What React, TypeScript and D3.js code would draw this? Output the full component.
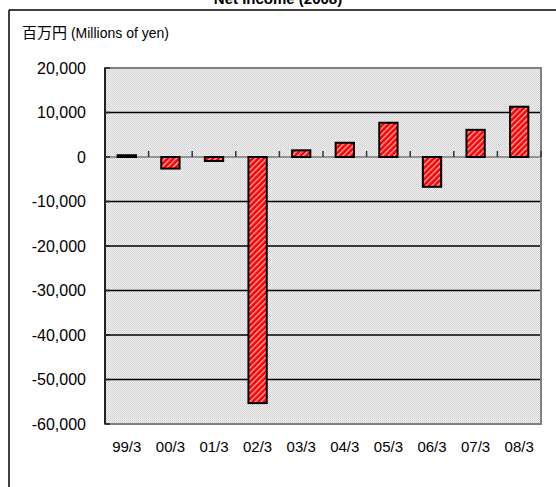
import React from "react";
import * as d3 from "d3";

const categories = ["99/3", "00/3", "01/3", "02/3", "03/3", "04/3", "05/3", "06/3", "07/3", "08/3"];
const netIncome = [400, -2600, -900, -55300, 1500, 3200, 7700, -6700, 6100, 11300];
const yTicks = [20000, 10000, 0, -10000, -20000, -30000, -40000, -50000, -60000];
const titleText = "Net Income (2008)";
const unitCJK = "百万円";
const unitLatin = " (Millions of yen)";

const W = 556;
const H = 487;
const plot = { left: 105, right: 541, top: 68, bottom: 424 };
const sans = "'Liberation Sans', Arial, sans-serif";

export default function App() {
  const x = d3
    .scaleBand<string>()
    .domain(categories)
    .range([plot.left, plot.right])
    .paddingInner(0.58)
    .paddingOuter(0.29);
  const y = d3.scaleLinear().domain([-60000, 20000]).range([plot.bottom, plot.top]);
  const step = x.step();
  const fmt = (v: number) => d3.format(",")(v).replace("\u2212", "-");
  const y0 = y(0);

  return (
    <svg
      width={W}
      height={H}
      style={{ position: "absolute", left: 0, top: 0, background: "#fff" }}
    >
      <defs>
        <pattern id="bg" width={2} height={2} patternUnits="userSpaceOnUse">
          <rect width={2} height={2} fill="#efefef" />
          <rect x={0} y={0} width={1} height={1} fill="#d0d0d0" />
          <rect x={1} y={1} width={1} height={1} fill="#d8d8d8" />
        </pattern>
        <pattern
          id="hatch"
          width={4}
          height={4}
          patternUnits="userSpaceOnUse"
          patternTransform="rotate(45)"
        >
          <rect width={4} height={4} fill="#ff0000" />
          <rect x={0} y={0} width={1.3} height={4} fill="#ffffff" opacity={0.7} />
        </pattern>
      </defs>

      {/* outer frame */}
      <line x1={9} y1={10} x2={W} y2={10} stroke="#000" strokeWidth={1.5} />
      <line x1={9} y1={10} x2={9} y2={H} stroke="#000" strokeWidth={1.5} />

      {/* title (clipped by top edge, as in the reference) */}
      <text
        x={W / 2}
        y={4}
        textAnchor="middle"
        fontFamily={sans}
        fontWeight="bold"
        fontSize={15}
        fill="#000"
      >
        {titleText}
      </text>

      {/* unit label */}
      <text x={22} y={38} fontSize={15} fill="#000">
        <tspan fontFamily="'Noto Sans CJK JP', sans-serif">{unitCJK}</tspan>
        <tspan fontFamily={sans} fontSize={14}>{unitLatin}</tspan>
      </text>

      {/* plot background */}
      <rect
        x={plot.left}
        y={plot.top}
        width={plot.right - plot.left}
        height={plot.bottom - plot.top}
        fill="url(#bg)"
      />

      {/* gridlines */}
      {yTicks
        .filter((t) => t !== 0 && t !== 20000 && t !== -60000)
        .map((t) => (
          <line
            key={"g" + t}
            x1={plot.left}
            x2={plot.right}
            y1={y(t)}
            y2={y(t)}
            stroke="#000"
            strokeWidth={1.5}
          />
        ))}

      {/* plot border */}
      <rect
        x={plot.left}
        y={plot.top}
        width={plot.right - plot.left}
        height={plot.bottom - plot.top}
        fill="none"
        stroke="#808080"
        strokeWidth={2}
      />

      {/* zero (category) axis */}
      <line x1={plot.left} x2={plot.right} y1={y0} y2={y0} stroke="#7a7a7a" strokeWidth={1.5} />
      {categories.slice(1).map((c) => (
        <line
          key={"ct" + c}
          x1={(x(c) as number) - (step - x.bandwidth()) / 2}
          x2={(x(c) as number) - (step - x.bandwidth()) / 2}
          y1={y0}
          y2={y0 - 6}
          stroke="#333"
          strokeWidth={1.5}
        />
      ))}
      <line
        x1={plot.right}
        x2={plot.right}
        y1={y0}
        y2={y0 - 6}
        stroke="#333"
        strokeWidth={1.5}
      />

      {/* value axis */}
      <line x1={plot.left} x2={plot.left} y1={plot.top} y2={plot.bottom} stroke="#222" strokeWidth={2} />
      {yTicks.map((t) => (
        <line
          key={"yt" + t}
          x1={plot.left}
          x2={plot.left + 5}
          y1={y(t)}
          y2={y(t)}
          stroke="#222"
          strokeWidth={1.5}
        />
      ))}

      {/* bars */}
      {categories.map((c, i) => {
        const v = netIncome[i];
        const top = y(Math.max(0, v));
        const bot = y(Math.min(0, v));
        return (
          <rect
            key={"b" + c}
            x={x(c)}
            y={top}
            width={x.bandwidth()}
            height={Math.max(bot - top, 0.5)}
            fill="url(#hatch)"
            stroke="#000"
            strokeWidth={2}
          />
        );
      })}

      {/* y tick labels */}
      {yTicks.map((t) => (
        <text
          key={"yl" + t}
          x={86}
          y={y(t)}
          dy="0.36em"
          textAnchor="end"
          fontFamily={sans}
          fontSize={16}
          fill="#000"
        >
          {fmt(t)}
        </text>
      ))}

      {/* x labels */}
      {categories.map((c) => (
        <text
          key={"xl" + c}
          x={(x(c) as number) + x.bandwidth() / 2}
          y={452}
          textAnchor="middle"
          fontFamily={sans}
          fontSize={15}
          fill="#000"
        >
          {c}
        </text>
      ))}
    </svg>
  );
}
